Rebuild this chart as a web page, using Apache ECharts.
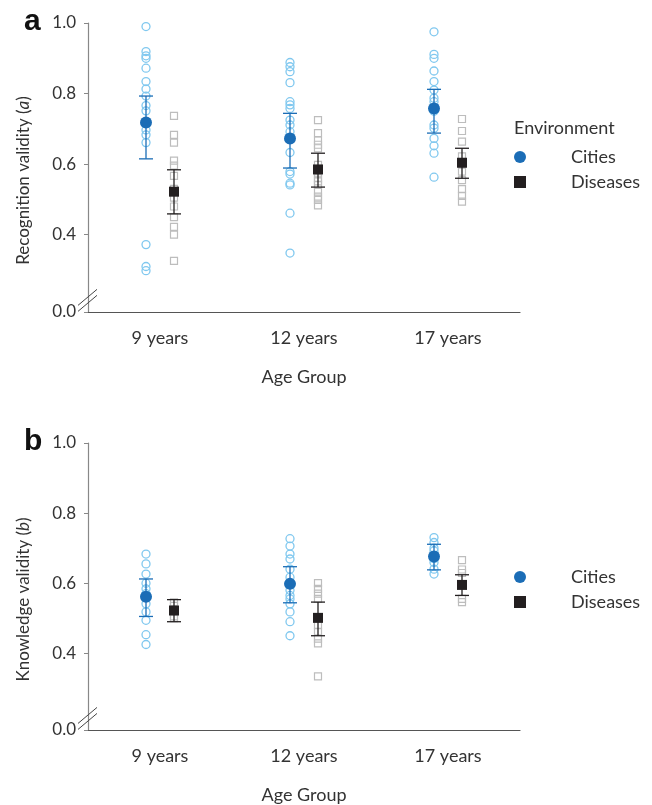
<!DOCTYPE html>
<html>
<head>
<meta charset="utf-8">
<script src="https://cdn.jsdelivr.net/npm/echarts@6/dist/echarts.min.js"></script>
<style>html,body{margin:0;padding:0;background:#fff}#c{width:652px;height:805px}</style>
</head>
<body>
<div id="c"></div>
<script>
const categories = ['9 years', '12 years', '17 years'];
const yTickValues = [0.4, 0.6, 0.8, 1.0];
const yBottomValue = 0.181;   // bottom of the broken axis, labelled "0.0"
const yBottomLabel = '0.0';
const yMax = 1.0;

// Panel a: recognition validity
const recCities = [
  [0.990, 0.919, 0.907, 0.900, 0.872, 0.834, 0.813, 0.793, 0.766, 0.751, 0.720, 0.697, 0.683, 0.661, 0.372, 0.310, 0.298],
  [0.888, 0.876, 0.862, 0.831, 0.777, 0.768, 0.758, 0.725, 0.711, 0.692, 0.670, 0.633, 0.579, 0.572, 0.546, 0.541, 0.461, 0.348],
  [0.975, 0.911, 0.900, 0.864, 0.834, 0.810, 0.787, 0.777, 0.750, 0.711, 0.702, 0.673, 0.652, 0.631, 0.563]
];
const recDiseases = [
  [0.737, 0.683, 0.661, 0.610, 0.596, 0.567, 0.530, 0.505, 0.480, 0.450, 0.422, 0.400, 0.326],
  [0.725, 0.688, 0.667, 0.655, 0.645, 0.598, 0.574, 0.560, 0.551, 0.541, 0.522, 0.508, 0.499, 0.483],
  [0.728, 0.694, 0.664, 0.622, 0.600, 0.579, 0.555, 0.529, 0.510, 0.494]
];
const recCitiesMean = [0.718, 0.673, 0.758];
const recCitiesLow  = [0.615, 0.589, 0.688];
const recCitiesHigh = [0.793, 0.744, 0.812];
const recDiseasesMean = [0.522, 0.585, 0.604];
const recDiseasesLow  = [0.459, 0.535, 0.560];
const recDiseasesHigh = [0.584, 0.631, 0.645];

// Panel b: knowledge validity
const knowCities = [
  [0.683, 0.655, 0.626, 0.600, 0.584, 0.570, 0.541, 0.518, 0.494, 0.453, 0.425],
  [0.727, 0.706, 0.683, 0.669, 0.640, 0.617, 0.580, 0.565, 0.555, 0.541, 0.518, 0.490, 0.450],
  [0.730, 0.716, 0.700, 0.692, 0.670, 0.659, 0.640, 0.626]
];
const knowDiseases = [
  [0.545, 0.535, 0.520, 0.505, 0.500],
  [0.600, 0.584, 0.570, 0.555, 0.480, 0.461, 0.442, 0.428, 0.334],
  [0.666, 0.639, 0.629, 0.555, 0.546]
];
const knowCitiesMean = [0.561, 0.598, 0.676];
const knowCitiesLow  = [0.505, 0.544, 0.638];
const knowCitiesHigh = [0.612, 0.647, 0.711];
const knowDiseasesMean = [0.522, 0.501, 0.595];
const knowDiseasesLow  = [0.490, 0.450, 0.565];
const knowDiseasesHigh = [0.553, 0.546, 0.624];

const FONT = 'Lato, "Open Sans", sans-serif';
const TXT = '#333';
const C_PT = '#80c8ef', C_MEAN = '#1b6db6', D_PT = '#bdbdbd', D_MEAN = '#231f20';
const OFF = 14;

function flat(groups) {
  const out = [];
  groups.forEach((vals, i) => vals.forEach(v => out.push([i, v])));
  return out;
}
function errData(lo, hi) { return lo.map((l, i) => [i, l, hi[i]]); }
function errRender(offset, color) {
  return function (params, api) {
    const i = api.value(0);
    const a = api.coord([i, api.value(1)]);
    const b = api.coord([i, api.value(2)]);
    const x = a[0] + offset, w = 7;
    const st = { stroke: color, lineWidth: 1.3 };
    return { type: 'group', children: [
      { type: 'line', shape: { x1: x, y1: a[1], x2: x, y2: b[1] }, style: st },
      { type: 'line', shape: { x1: x - w, y1: a[1], x2: x + w, y2: a[1] }, style: st },
      { type: 'line', shape: { x1: x - w, y1: b[1], x2: x + w, y2: b[1] }, style: st }
    ]};
  };
}

function panelSeries(g, cityPts, disPts, cm, cl, ch, dm, dl, dh) {
  return [
    { type: 'scatter', name: 'cpts', xAxisIndex: g, yAxisIndex: g, data: flat(cityPts), symbol: 'circle', symbolSize: 8,
      symbolOffset: [-OFF, 0], itemStyle: { opacity: 1, color: 'rgba(0,0,0,0)', borderColor: C_PT, borderWidth: 1.3 }, silent: true, z: 2 },
    { type: 'scatter', name: 'dpts', xAxisIndex: g, yAxisIndex: g, data: flat(disPts), symbol: 'rect', symbolSize: 7,
      symbolOffset: [OFF, 0], itemStyle: { opacity: 1, color: 'rgba(0,0,0,0)', borderColor: D_PT, borderWidth: 1.2 }, silent: true, z: 2 },
    { type: 'custom', xAxisIndex: g, yAxisIndex: g, data: errData(cl, ch), renderItem: errRender(-OFF, C_MEAN), z: 3, silent: true },
    { type: 'custom', xAxisIndex: g, yAxisIndex: g, data: errData(dl, dh), renderItem: errRender(OFF, D_MEAN), z: 3, silent: true },
    { type: 'scatter', name: 'Cities', xAxisIndex: g, yAxisIndex: g, data: cm.map((v, i) => [i, v]), symbol: 'circle', symbolSize: 12,
      symbolOffset: [-OFF, 0], itemStyle: { color: C_MEAN, opacity: 1 }, z: 4 },
    { type: 'scatter', name: 'Diseases', xAxisIndex: g, yAxisIndex: g, data: dm.map((v, i) => [i, v]), symbol: 'rect', symbolSize: 10,
      symbolOffset: [OFF, 0], itemStyle: { color: D_MEAN, opacity: 1 }, z: 4 }
  ];
}

function xAxis(g) {
  return {
    type: 'category', gridIndex: g, data: categories, boundaryGap: true,
    name: 'Age Group', nameLocation: 'middle', nameGap: 56,
    nameTextStyle: { fontFamily: FONT, fontSize: 18, color: TXT },
    axisLine: { lineStyle: { color: '#555', width: 1.2 } },
    axisTick: { alignWithLabel: true, length: 4, lineStyle: { color: '#555' } },
    axisLabel: { margin: 17, fontFamily: FONT, fontSize: 18, color: TXT },
    splitLine: { show: false }
  };
}
function yAxis(g, label, ital) {
  const vals = [yBottomValue].concat(yTickValues);
  return {
    type: 'value', gridIndex: g, min: yBottomValue, max: yMax,
    name: '{n|' + label + ' (}{i|' + ital + '}{n|)}', nameLocation: 'middle', nameGap: 56,
    nameTextStyle: { padding: [0, 26, 0, 0], rich: {
      n: { fontFamily: FONT, fontSize: 17, color: TXT },
      i: { fontFamily: FONT, fontSize: 17, color: TXT, fontStyle: 'italic' } } },
    axisLine: { show: true, lineStyle: { color: '#888', width: 1.2 } },
    axisTick: { show: true, customValues: vals, length: 4, lineStyle: { color: '#888' } },
    axisLabel: { customValues: vals, margin: 12, fontFamily: FONT, fontSize: 17, color: TXT,
      formatter: v => (v < yTickValues[0] - 0.1 ? yBottomLabel : v.toFixed(1)) },
    splitLine: { show: false }
  };
}

const chart = echarts.init(document.getElementById('c'), null, { renderer: 'canvas' });
const legendBase = {
  orient: 'vertical', left: 509, itemWidth: 12, itemHeight: 12, itemGap: 7,
  textStyle: { fontFamily: FONT, fontSize: 18, color: TXT, padding: [0, 0, 0, 40] },
  data: [{ name: 'Cities', icon: 'circle' }, { name: 'Diseases', icon: 'rect' }],
  selectedMode: false
};
chart.setOption({
  animation: false,
  title: [
    { text: 'a', left: 19, top: 2, textStyle: { fontFamily: 'Liberation Sans, Arial', fontSize: 30, fontWeight: 'bold', color: '#111' } },
    { text: 'b', left: 19, top: 422, textStyle: { fontFamily: 'Liberation Sans, Arial', fontSize: 30, fontWeight: 'bold', color: '#111' } },
    { text: 'Environment', left: 509, top: 114, textStyle: { fontFamily: FONT, fontSize: 18, fontWeight: 'normal', color: TXT } }
  ],
  legend: [
    Object.assign({}, legendBase, { top: 143 }),
    Object.assign({}, legendBase, { top: 563 })
  ],
  grid: [
    { left: 88, width: 432, top: 23, height: 289 },
    { left: 88, width: 432, top: 443, height: 289 }
  ],
  xAxis: [xAxis(0), xAxis(1)],
  yAxis: [yAxis(0, 'Recognition validity', 'a'), yAxis(1, 'Knowledge validity', 'b')],
  series: [].concat(
    panelSeries(0, recCities, recDiseases, recCitiesMean, recCitiesLow, recCitiesHigh, recDiseasesMean, recDiseasesLow, recDiseasesHigh),
    panelSeries(1, knowCities, knowDiseases, knowCitiesMean, knowCitiesLow, knowCitiesHigh, knowDiseasesMean, knowDiseasesLow, knowDiseasesHigh)
  )
});

// axis-break marks "//" on each y axis
const breakAt = 0.214;
const g = [];
[0, 1].forEach(i => {
  const p = chart.convertToPixel({ xAxisIndex: i, yAxisIndex: i }, [0, breakAt]);
  const ax = chart.getModel().getComponent('grid', i).coordinateSystem.getRect().x;
  const y = p[1];
  [-3, 3].forEach(d => g.push({ type: 'line', shape: { x1: ax - 10, y1: y + 8 + d, x2: ax + 9, y2: y - 8 + d },
    style: { stroke: '#444', lineWidth: 1 }, z: 10 }));
});
chart.setOption({ graphic: g });
</script>
</body>
</html>
